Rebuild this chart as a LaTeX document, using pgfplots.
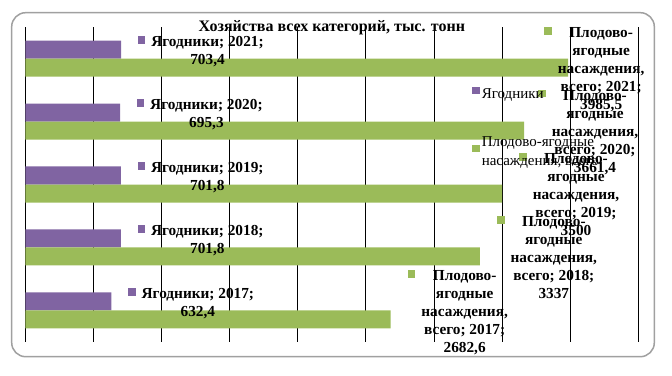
\documentclass[border=0pt]{standalone}
\usepackage{fontspec}
\setmainfont{Liberation Serif}
\usepackage{pgfplots}
\usepackage{pgfplotstable}
\pgfplotsset{compat=1.18}
\definecolor{ygpurple}{HTML}{8064A2}
\definecolor{yggreen}{HTML}{9BBB59}
\definecolor{framegray}{HTML}{A0A0A0}

\pgfplotstableread{
year ber fruit
2017 632.4 2682.6
2018 701.8 3337
2019 701.8 3500
2020 695.3 3661.4
2021 703.4 3985.5
}\datatable

\newcommand{\lblfont}{\fontsize{15.3bp}{18bp}\selectfont\bfseries}
\newcommand{\lbl}[2]{\textcolor{#1}{\rule[3bp]{7.5bp}{7.5bp}}\hspace{6bp}\begin{tabular}[t]{@{}c@{}}#2\end{tabular}}
% #1 colour, #2 column, #3 row, #4 text, #5 dx, #6 dy, #7 bar shift
\newcommand{\barlabel}[7]{%
\addplot[draw=none, fill=none, bar shift=#7, forget plot, point meta=x,
  x filter/.expression={\coordindex==#3 ? x : nan},
  nodes near coords={\lbl{#1}{#4\\\pgfmathprintnumber[assume math mode=true,use comma,fixed,precision=1,1000 sep={}]{\pgfplotspointmeta}}},
  every node near coord/.append style={anchor=west, inner sep=0pt, xshift=#5, yshift=#6, font=\lblfont, text=black},
] table[x=#2, y=year] {\datatable};}

\begin{document}
\begin{tikzpicture}
\draw[framegray, line width=1.5bp, rounded corners=14bp] (11.7bp,19.3bp) rectangle (654.3bp,363.3bp);
\begin{axis}[
  at={(25.3bp,34bp)}, anchor=south west,
  scale only axis, width=613bp, height=315bp,
  xmin=0, xmax=4500, ymin=2016.5, ymax=2021.5,
  xtick={0,500,...,4500}, xticklabels={}, ytick=\empty,
  major tick length=0pt,
  xmajorgrids, grid style={black, line width=0.8bp},
  axis line style={draw=none},
  clip=false,
  xbar, bar width=18bp,
  title={Хозяйства всех категорий, тыс. тонн},
  title style={at={(0.5,1)}, anchor=base, yshift=-10bp, font=\fontsize{16bp}{18bp}\selectfont\bfseries, inner sep=0pt},
  legend cell align=left,
  legend style={at={(0.724,0.819)}, anchor=north west, draw=none, fill=none,
    font=\fontsize{15bp}{19bp}\selectfont, cells={anchor=west, align=left}, row sep=33bp},
]
\addplot[fill=ygpurple, draw=none, bar shift=9bp,
  legend image code/.code={\fill[ygpurple] (0bp,-0.5bp) rectangle (7.5bp,7bp);},
] table[x=ber, y=year] {\datatable};
\addlegendentry{Ягодники}
\addplot[fill=yggreen, draw=none, bar shift=-9bp,
  legend image code/.code={\fill[yggreen] (0bp,-0.5bp) rectangle (7.5bp,7bp);},
] table[x=fruit, y=year] {\datatable};
\addlegendentry{Плодово-ягодные\\насаждения, всего}

\barlabel{ygpurple}{ber}{0}{Ягодники; 2017;}{16.5bp}{-2.5bp}{9bp}
\barlabel{ygpurple}{ber}{1}{Ягодники; 2018;}{16.5bp}{-2.5bp}{9bp}
\barlabel{ygpurple}{ber}{2}{Ягодники; 2019;}{16.5bp}{-2.5bp}{9bp}
\barlabel{ygpurple}{ber}{3}{Ягодники; 2020;}{16.5bp}{-2.5bp}{9bp}
\barlabel{ygpurple}{ber}{4}{Ягодники; 2021;}{16.5bp}{-2.5bp}{9bp}
\barlabel{yggreen}{fruit}{0}{Плодово-\\ягодные\\насаждения,\\всего; 2017;}{17bp}{6.5bp}{-9bp}
\barlabel{yggreen}{fruit}{1}{Плодово-\\ягодные\\насаждения,\\всего; 2018;}{17bp}{-2.5bp}{-9bp}
\barlabel{yggreen}{fruit}{2}{Плодово-\\ягодные\\насаждения,\\всего; 2019;}{17bp}{-2.5bp}{-9bp}
\barlabel{yggreen}{fruit}{3}{Плодово-\\ягодные\\насаждения,\\всего; 2020;}{14bp}{-2bp}{-9bp}
\barlabel{yggreen}{fruit}{4}{Плодово-\\ягодные\\насаждения,\\всего; 2021;}{-24bp}{-2.5bp}{-9bp}
\end{axis}
\pgfresetboundingbox
\useasboundingbox (0,0) rectangle (672bp,376bp);
\end{tikzpicture}
\end{document}
